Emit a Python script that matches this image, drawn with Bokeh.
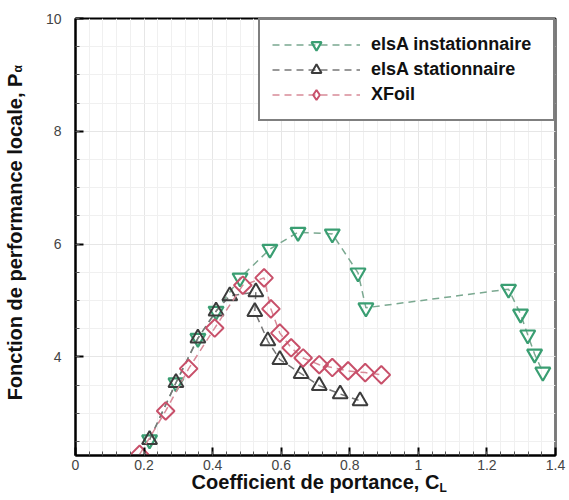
from bokeh.plotting import figure
from bokeh.models import (FixedTicker, NumeralTickFormatter, Legend, LegendItem, Title,
                          Range1d)
from bokeh.embed import file_html
from bokeh.resources import INLINE
import math

# ---- data ----
unsteady_cl = [0.216, 0.293, 0.357, 0.41, 0.48, 0.567, 0.649, 0.749, 0.824, 0.847,
               1.263, 1.298, 1.319, 1.339, 1.363]
unsteady_p = [2.53, 3.54, 4.33, 4.81, 5.40, 5.91, 6.21, 6.18, 5.49, 4.87,
              5.20, 4.76, 4.39, 4.05, 3.73]

steady_cl = [0.216, 0.293, 0.357, 0.41, 0.45, 0.526, 0.523, 0.561, 0.596, 0.658,
             0.711, 0.772, 0.83]
steady_p = [2.53, 3.54, 4.33, 4.81, 5.08, 5.15, 4.80, 4.28, 3.95, 3.70,
            3.49, 3.34, 3.22]

xfoil_cl = [0.187, 0.263, 0.33, 0.406, 0.488, 0.550, 0.570, 0.596, 0.629, 0.664,
            0.711, 0.749, 0.795, 0.845, 0.892]
xfoil_p = [2.27, 3.04, 3.79, 4.51, 5.27, 5.40, 4.85, 4.42, 4.16, 3.98,
           3.86, 3.81, 3.75, 3.72, 3.68]

x_ticks = [0, 0.2, 0.4, 0.6, 0.8, 1, 1.2, 1.4]
y_ticks = [2, 4, 6, 8, 10]
series_names = ["elsA instationnaire", "elsA stationnaire", "XFoil"]

FONT = "Liberation Sans"

p = figure(width=567, height=500, output_backend="svg", toolbar_location=None,
           x_range=Range1d(0, 1.4), y_range=Range1d(2.25, 10),
           min_border_left=75, min_border_right=12, min_border_top=18, min_border_bottom=45)
p.background_fill_color = "white"
p.border_fill_color = "white"
p.outline_line_color = "black"
p.outline_line_width = 2

# axes
p.xaxis.ticker = FixedTicker(ticks=x_ticks,
                             minor_ticks=[i * 0.04 for i in range(0, 36)])
p.yaxis.ticker = FixedTicker(ticks=y_ticks,
                             minor_ticks=[2 + i * 0.5 for i in range(0, 17)])
p.xaxis.formatter = NumeralTickFormatter(format="0.[0]")
for ax in (p.xaxis, p.yaxis):
    ax.axis_line_color = "black"
    ax.axis_line_width = 2
    ax.major_tick_in = 8
    ax.major_tick_out = 0
    ax.minor_tick_in = 4
    ax.minor_tick_out = 0
    ax.major_tick_line_color = "black"
    ax.major_tick_line_width = 2
    ax.minor_tick_line_color = "#555555"
    ax.major_label_text_font = FONT
    ax.major_label_text_font_size = "14px"
    ax.major_label_text_color = "#444444"
    ax.axis_label_text_font = FONT
    ax.axis_label_text_font_size = "20px"
    ax.axis_label_text_font_style = "bold"
    ax.axis_label_text_color = "#111111"
p.xaxis.major_label_standoff = 4
p.yaxis.major_label_standoff = 14
p.xaxis.axis_label = "Coefficient de portance, C"
p.yaxis.axis_label = "Fonction de performance locale, P"
p.xaxis.axis_label_standoff = -2
p.yaxis.axis_label_standoff = 17

p.xgrid.ticker = p.xaxis.ticker
p.ygrid.ticker = p.yaxis.ticker
for g in (p.xgrid, p.ygrid):
    g.grid_line_color = "#e6e6e6"
    g.grid_line_width = 1
    g.minor_grid_line_color = "#f0f0f0"
    g.minor_grid_line_width = 1

# series
green = "#3a9e72"
green_line = "#7aa890"
dark = "#3c3c3c"
dark_line = "#777777"
red = "#c8506a"
red_line = "#d88a98"

l1 = p.line(unsteady_cl, unsteady_p, line_color=green_line, line_width=1.5, line_dash="7 5")
s1 = p.scatter(unsteady_cl, unsteady_p, marker="inverted_triangle", size=15,
               line_color=green, line_width=2.2, fill_color=None)
l2 = p.line(steady_cl, steady_p, line_color=dark_line, line_width=1.5, line_dash="7 5")
s2 = p.scatter(steady_cl, steady_p, marker="triangle", size=15,
               line_color=dark, line_width=2, fill_color=None)
l3 = p.line(xfoil_cl, xfoil_p, line_color=red_line, line_width=1.5, line_dash="7 5")
s3 = p.scatter(xfoil_cl, xfoil_p, marker="square", size=12.5, angle=math.pi / 4,
               line_color=red, line_width=2, fill_color=None)
# diamond used only for the legend entry (hidden in the plot)
s3_legend = p.scatter(xfoil_cl, xfoil_p, marker="diamond", size=18,
                      line_color=red, line_width=2, fill_color=None, visible=False)

legend = Legend(items=[LegendItem(label=series_names[0], renderers=[l1, s1]),
                       LegendItem(label=series_names[1], renderers=[l2, s2]),
                       LegendItem(label=series_names[2], renderers=[l3, s3_legend])],
                location="top_right", margin=0, padding=12, spacing=0,
                glyph_width=88, glyph_height=25, label_height=20, label_width=170,
                label_standoff=11, inactive_fill_alpha=0,
                border_line_color="black", border_line_width=2,
                background_fill_color="white", background_fill_alpha=1,
                label_text_font=FONT, label_text_font_size="18px",
                label_text_font_style="bold", label_text_color="#111111")
p.add_layout(legend)

# subscripts of the axis titles
p.add_layout(Title(text="L", align="left", offset=364, standoff=-29, vertical_align="top",
                   text_font=FONT, text_font_size="12px", text_font_style="bold",
                   text_color="#111111"), "below")
p.add_layout(Title(text="α", align="left", offset=383, standoff=-48, vertical_align="bottom",
                   text_font=FONT, text_font_size="12px", text_font_style="bold",
                   text_color="#111111"), "left")

open("out.html", "w").write(file_html(p, INLINE))
